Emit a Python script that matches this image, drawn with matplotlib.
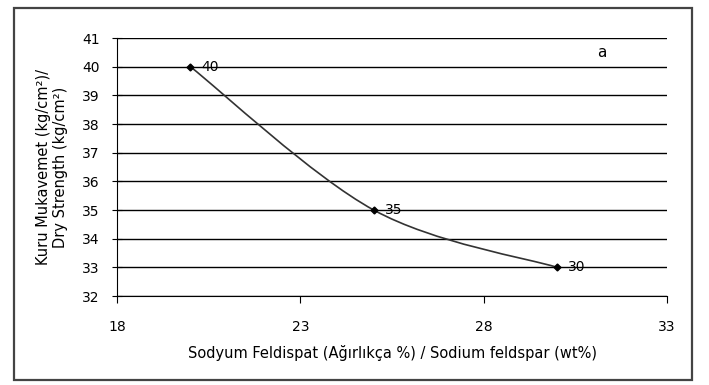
import numpy as np
import matplotlib.pyplot as plt
from matplotlib.path import Path
from matplotlib.patches import PathPatch, Rectangle

# data
feldspar = [20, 25, 30]
strength = [40, 35, 33]
point_labels = ['40', '35', '30']
xticks = [18, 23, 28, 33]
yticks = list(range(32, 42))


def smooth_path(x, y):
    '''Excel-like smoothed line through the points (cubic Bezier).'''
    p = np.column_stack([x, y]).astype(float)
    n = len(p)
    verts = [p[0]]
    codes = [Path.MOVETO]
    for i in range(n - 1):
        prev = p[i - 1] if i > 0 else p[i]
        nxt = p[i + 2] if i + 2 < n else p[i + 1]
        c1 = p[i] + (p[i + 1] - prev) / 6.0
        c2 = p[i + 1] - (nxt - p[i]) / 6.0
        verts += [c1, c2, p[i + 1]]
        codes += [Path.CURVE4] * 3
    return Path(verts, codes)


fig = plt.figure(figsize=(7.09, 3.85), dpi=100)
fig.patches.append(Rectangle((14 / 709, 5 / 385), 678 / 709, 372 / 385,
                             transform=fig.transFigure, fill=False,
                             edgecolor='#444444', linewidth=1.6))

ax = fig.add_axes([117 / 709, 89 / 385, 550 / 709, 258 / 385])
ax.set_xlim(18, 33)
ax.set_ylim(32, 41)
ax.set_xticks(xticks)
ax.set_yticks(yticks)
ax.yaxis.grid(True, color='black', linewidth=1.0)
ax.set_axisbelow(True)
for s in ['top', 'right']:
    ax.spines[s].set_visible(False)
ax.tick_params(axis='x', direction='out', length=5, pad=12, labelsize=10)
ax.tick_params(axis='y', direction='inout', length=7, pad=9, labelsize=10)

ax.add_patch(PathPatch(smooth_path(feldspar, strength), fill=False,
                       edgecolor='#333333', linewidth=1.2))
ax.plot(feldspar, strength, 'D', color='black', markersize=3.5)
for x, y, t in zip(feldspar, strength, point_labels):
    ax.annotate(t, (x, y), xytext=(8, 0), textcoords='offset points',
                va='center', ha='left', fontsize=10)

ax.text(31.1, 40.35, 'a', fontsize=11)

ax.set_xlabel('Sodyum Feldispat (Ağırlıkça %) / Sodium feldspar (wt%)',
              fontsize=10.5, labelpad=8)
ax.set_ylabel('Kuru Mukavemet (kg/cm²)/\nDry Strength (kg/cm²)',
              fontsize=10.5, labelpad=10)

plt.savefig('out.png', dpi=100)
